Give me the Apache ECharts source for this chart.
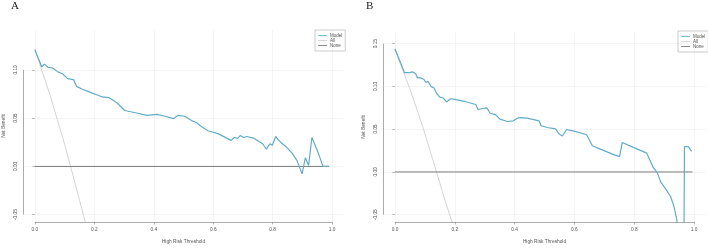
<!DOCTYPE html>
<html><head><meta charset="utf-8">
<script src="https://cdn.jsdelivr.net/npm/echarts@6/dist/echarts.min.js"></script>
<style>html,body{margin:0;padding:0;background:#fff}#c{width:708px;height:249px}</style>
</head><body><div id="c"></div>
<script>
const xTicks = [0, 0.2, 0.4, 0.6, 0.8, 1.0];
const xTickLabels = ['0.0', '0.2', '0.4', '0.6', '0.8', '1.0'];
const yTicksA = [-0.05, 0, 0.05, 0.10];
const yTickLabelsA = ['-0.05', '0.00', '0.05', '0.10'];
const yTicksB = [-0.05, 0, 0.05, 0.10, 0.15];
const yTickLabelsB = ['-0.05', '0.00', '0.05', '0.10', '0.15'];
const seriesNames = ['Model', 'All', 'None'];
const panelLabels = ['A', 'B'];
const xTitle = 'High Risk Threshold';
const yTitle = 'Net Benefit';

// Panel A
const modelA_x = [0, 0.023, 0.032, 0.043, 0.06, 0.077, 0.093, 0.11, 0.13, 0.14, 0.16, 0.177, 0.193, 0.21, 0.227, 0.249, 0.277, 0.302, 0.338, 0.377, 0.41, 0.438, 0.466, 0.482, 0.504, 0.527, 0.543, 0.56, 0.582, 0.616, 0.66, 0.671, 0.682, 0.691, 0.702, 0.713, 0.738, 0.766, 0.779, 0.791, 0.799, 0.81, 0.827, 0.843, 0.866, 0.882, 0.899, 0.91, 0.921, 0.932, 0.954, 0.969, 0.99];
const modelA_y = [0.121, 0.1033, 0.106, 0.103, 0.102, 0.098, 0.096, 0.091, 0.090, 0.083, 0.080, 0.078, 0.076, 0.074, 0.072, 0.0714, 0.0657, 0.058, 0.0556, 0.053, 0.054, 0.052, 0.0495, 0.053, 0.052, 0.0475, 0.0455, 0.0414, 0.037, 0.034, 0.027, 0.030, 0.029, 0.032, 0.030, 0.031, 0.029, 0.0235, 0.018, 0.0235, 0.022, 0.031, 0.025, 0.021, 0.0135, 0.006, -0.0077, 0.009, 0.001, 0.030, 0.0135, 0.0, 0.0];
const allA_x = [0, 0.05, 0.10, 0.12, 0.15, 0.17, 0.18];
const allA_y = [0.121, 0.075, 0.023, 0.0, -0.035, -0.058, -0.07];
const noneA_x = [0, 0.99];
const noneA_y = [0, 0];

// Panel B
const modelB_x = [0, 0.032, 0.047, 0.058, 0.069, 0.075, 0.086, 0.097, 0.103, 0.110, 0.121, 0.130, 0.139, 0.150, 0.162, 0.172, 0.186, 0.197, 0.231, 0.270, 0.278, 0.292, 0.307, 0.318, 0.337, 0.351, 0.376, 0.396, 0.409, 0.420, 0.442, 0.482, 0.489, 0.509, 0.537, 0.548, 0.560, 0.565, 0.574, 0.599, 0.641, 0.660, 0.693, 0.727, 0.751, 0.760, 0.799, 0.842, 0.864, 0.877, 0.889, 0.905, 0.922, 0.933, 0.942, 0.952, 0.966, 0.968, 0.981, 0.992];
const modelB_y = [0.144, 0.116, 0.116, 0.117, 0.115, 0.110, 0.110, 0.108, 0.1045, 0.106, 0.0997, 0.0985, 0.092, 0.0875, 0.0864, 0.0818, 0.0856, 0.0852, 0.0826, 0.0788, 0.073, 0.0742, 0.075, 0.0686, 0.0667, 0.0617, 0.059, 0.0598, 0.0629, 0.0636, 0.0629, 0.0598, 0.054, 0.052, 0.0504, 0.0447, 0.042, 0.0447, 0.0496, 0.0477, 0.0435, 0.0307, 0.0258, 0.0208, 0.018, 0.0345, 0.0284, 0.022, 0.005, -0.0008, -0.012, -0.0197, -0.029, -0.0405, -0.055, -0.09, -0.1, 0.0295, 0.0295, 0.024];
const allB_x = [0, 0.05, 0.09, 0.12, 0.139, 0.16, 0.192, 0.2];
const allB_y = [0.143, 0.097, 0.056, 0.022, 0.0, -0.025, -0.06, -0.07];
const noneB_x = [0, 0.995];
const noneB_y = [0, 0];

const colModel = '#62acc8', colAll = '#cfcfcf', colNone = '#6f6f6f';
const txt = '#555', axisCol = '#888', gridCol = '#f1f1f1';
const font = 'Liberation Sans';

const pair = (xs, ys) => xs.map((x, i) => [x, ys[i]]);

const panels = [
  { grid: { left: 20, top: 30, width: 324, height: 197 }, xMin: -0.04, xMax: 1.04, yMin: -0.0576, yMax: 0.1414,
    yTicks: yTicksA, yLabels: yTickLabelsA, model: pair(modelA_x, modelA_y), all: pair(allA_x, allA_y), none: pair(noneA_x, noneA_y),
    legend: { left: 315, top: 30 }, title: { left: 11 } },
  { grid: { left: 383, top: 32, width: 323, height: 195.7 }, xMin: -0.04, xMax: 1.04, yMin: -0.0585, yMax: 0.1636,
    yTicks: yTicksB, yLabels: yTickLabelsB, model: pair(modelB_x, modelB_y), all: pair(allB_x, allB_y), none: pair(noneB_x, noneB_y),
    legend: { left: 678, top: 31 }, title: { left: 366 } }
];

const option = {
  animation: false,
  backgroundColor: '#fff',
  title: panels.map((p, i) => ({ text: panelLabels[i], left: p.title.left, top: 1, padding: 0,
    textStyle: { fontFamily: 'Liberation Serif', fontSize: 11, fontWeight: 'normal', color: '#222' } })),
  legend: panels.map(p => ({ data: seriesNames, orient: 'vertical', left: p.legend.left, top: p.legend.top,
    icon: 'rect', itemWidth: 9, itemHeight: 0.8, itemGap: 0, padding: [3, 3, 3, 3],
    borderColor: '#aaa', borderWidth: 0.6, selectedMode: false,
    textStyle: { fontFamily: font, fontSize: 4.5, lineHeight: 5, color: txt, padding: [0, 0, 0, -2] } })),
  grid: panels.map(p => Object.assign({ containLabel: false }, p.grid)),
  xAxis: panels.map((p, i) => ({ type: 'value', gridIndex: i, min: p.xMin, max: p.xMax,
    name: xTitle, nameLocation: 'middle', nameGap: 17,
    nameTextStyle: { fontFamily: font, fontSize: 4.8, color: txt },
    axisLine: { show: false, onZero: false },
    axisTick: { show: true, length: 2.5, customValues: xTicks, lineStyle: { color: axisCol, width: 0.6 } },
    axisLabel: { customValues: xTicks, margin: 5, fontFamily: font, fontSize: 4.8, color: txt,
      formatter: v => { const k = xTicks.findIndex(t => Math.abs(t - v) < 1e-9); return k >= 0 ? xTickLabels[k] : ''; } },
    splitLine: { show: true, lineStyle: { color: gridCol, width: 0.8 } } })),
  yAxis: panels.map((p, i) => ({ type: 'value', gridIndex: i, min: p.yMin, max: p.yMax,
    name: yTitle, nameLocation: 'middle', nameGap: 17, nameRotate: 90,
    nameTextStyle: { fontFamily: font, fontSize: 4.8, color: txt },
    axisLine: { show: false },
    axisTick: { show: true, length: 2.5, customValues: p.yTicks, lineStyle: { color: axisCol, width: 0.6 } },
    axisLabel: { customValues: p.yTicks, rotate: 90, margin: 5, fontFamily: font, fontSize: 4.8, color: txt,
      formatter: v => { const k = p.yTicks.findIndex(t => Math.abs(t - v) < 1e-9); return k >= 0 ? p.yLabels[k] : ''; } },
    splitLine: { show: true, lineStyle: { color: gridCol, width: 0.8 } } })),
  series: []
};

panels.forEach((p, i) => {
  const yT = p.yTicks;
  option.series.push(
    { name: 'All', type: 'line', xAxisIndex: i, yAxisIndex: i, data: p.all, showSymbol: false, symbol: 'none', clip: true,
      lineStyle: { color: colAll, width: 0.9 }, itemStyle: { color: colAll } },
    { name: 'None', type: 'line', xAxisIndex: i, yAxisIndex: i, data: p.none, showSymbol: false, symbol: 'none', clip: true,
      lineStyle: { color: colNone, width: 0.9 }, itemStyle: { color: colNone },
      markLine: { silent: true, symbol: 'none', label: { show: false }, animation: false,
        lineStyle: { color: axisCol, width: 0.7, type: 'solid' },
        data: [
          [{ coord: [xTicks[0], p.yMin] }, { coord: [xTicks[xTicks.length - 1], p.yMin] }],
          [{ coord: [p.xMin, yT[0]] }, { coord: [p.xMin, yT[yT.length - 1]] }]
        ] } },
    { name: 'Model', type: 'line', xAxisIndex: i, yAxisIndex: i, data: p.model, showSymbol: false, symbol: 'none', clip: true,
      lineStyle: { color: colModel, width: 1.2 }, itemStyle: { color: colModel } }
  );
});

const chart = echarts.init(document.getElementById('c'), null, { renderer: 'canvas' });
chart.setOption(option);
</script>
</body></html>
